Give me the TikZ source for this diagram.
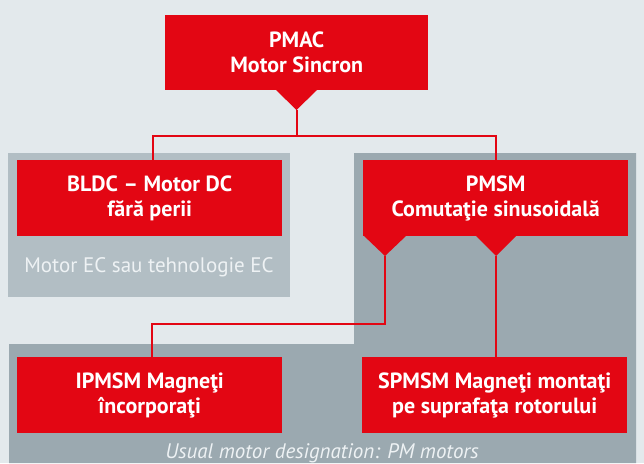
\documentclass[tikz,border=0pt]{standalone}
\usepackage{fontspec}
\setmainfont{PT Sans}
\usetikzlibrary{calc}
\definecolor{bg}{HTML}{E3E9EC}
\definecolor{mred}{HTML}{E30613}
\definecolor{lpanel}{HTML}{B2BEC4}
\definecolor{dpanel}{HTML}{9BA9B0}
\definecolor{ptext}{HTML}{EEF2F4}
\begin{document}
\begin{tikzpicture}[x=1pt,y=-1pt,
  box/.style={fill=mred, text=white, font=\bfseries\fontsize{22}{25}\selectfont, align=center, inner sep=0pt, anchor=north west, minimum width=265pt, minimum height=76pt},
  link/.style={draw=mred, line width=2pt},
  ptxt/.style={text=ptext, font=\fontsize{21}{24}\selectfont, inner sep=0pt}]
\fill[bg] (0,0) rectangle (644,463);
\useasboundingbox (0,0) rectangle (644,463);
\fill[lpanel] (8,153) rectangle (290,297);
\fill[dpanel] (354,153) -- (636,153) -- (636,463) -- (9,463) -- (9,344) -- (354,344) -- cycle;
% boxes
\node[box, minimum width=263pt, minimum height=75pt] (pmac) at (165,15) {PMAC\\Motor Sincron};
\node[box] (bldc) at (17,160) {BLDC -- Motor DC\\fără perii};
\node[box] (pmsm) at (363,160) {PMSM\\Comutaţie sinusoidală};
\node[box] (ipmsm) at (17,357) {IPMSM Magneţi\\încorporaţi};
\node[box] (spmsm) at (362,357) {SPMSM Magneţi montaţi\\pe suprafaţa rotorului};
% pointers
\coordinate (pmactip) at (296.5,110);
\fill[mred] (276,90) -- (317,90) -- (pmactip) -- cycle;
\coordinate (ltip) at (385,256);
\fill[mred] (363,235) -- (407,235) -- (ltip) -- cycle;
\coordinate (rtip) at (496,256);
\fill[mred] (475,235) -- (517,235) -- (rtip) -- cycle;
% links
\coordinate (bus) at (296.5,136);
\draw[link] (pmactip) -- (bus);
\draw[link] ([xshift=3pt]bldc.north) |- (bus) -| (pmsm.north);
\draw[link] (ltip) -- ++(0,68) -| ([xshift=2pt]ipmsm.north);
\draw[link] (rtip) -- (rtip |- spmsm.north);
% panel labels
\node[ptxt] (ec) at (149,267) {Motor EC sau tehnologie EC};
\node[ptxt, font=\itshape\fontsize{21}{24}\selectfont] (pm) at (322,453) {Usual motor designation: PM motors};
\end{tikzpicture}
\end{document}
